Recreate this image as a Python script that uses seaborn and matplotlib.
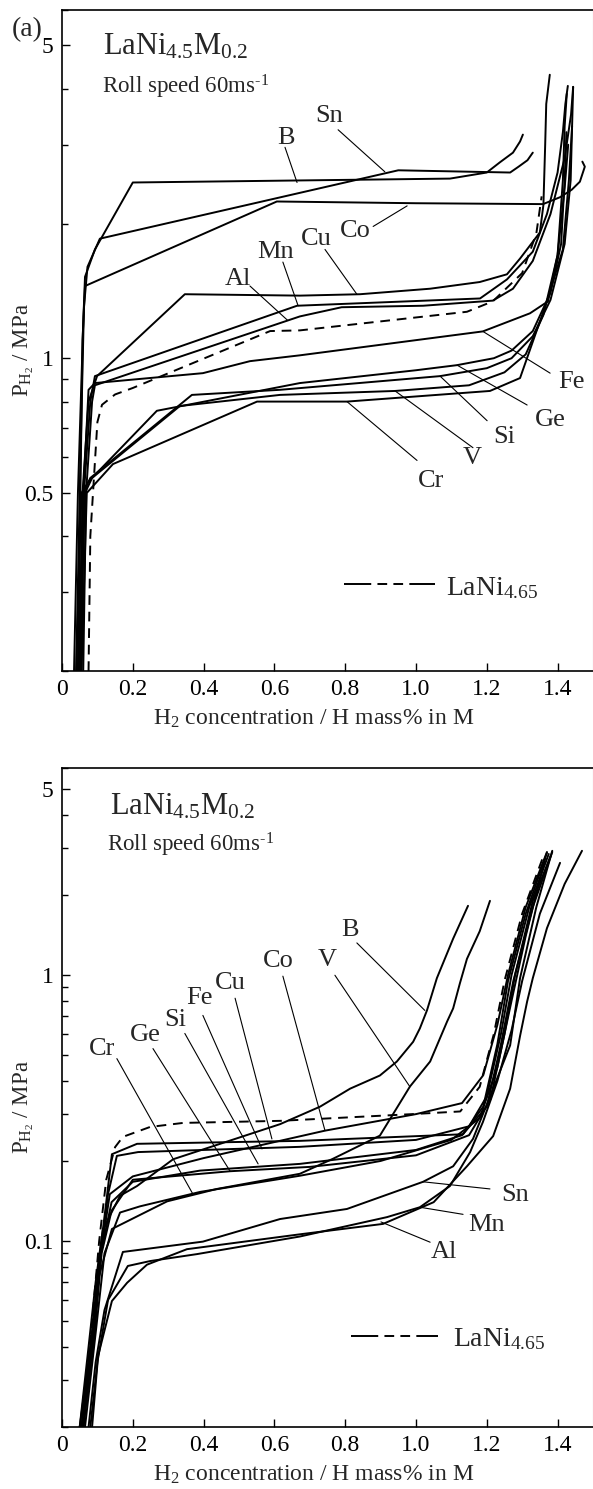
import numpy as np
import pandas as pd
import matplotlib
matplotlib.use("Agg")
import matplotlib.pyplot as plt
import seaborn as sns
from matplotlib.ticker import FixedLocator, FixedFormatter, LogLocator, NullFormatter

# ---------------- data: panel (a) ----------------
a_B_x = [0.034, 0.045, 0.06, 0.065, 0.093, 0.2, 1.096, 1.2, 1.237, 1.274, 1.294, 1.302]
a_B_y = [0.2, 0.5, 1.2, 1.52, 1.75, 2.47, 2.52, 2.60, 2.74, 2.88, 3.05, 3.16]
a_Sn_x = [0.04, 0.05, 0.062, 0.072, 0.107, 0.95, 1.266, 1.29, 1.315, 1.33]
a_Sn_y = [0.2, 0.5, 1.3, 1.6, 1.85, 2.63, 2.60, 2.68, 2.77, 2.88]
a_Co_x = [0.045, 0.052, 0.058, 0.065, 0.607, 1.0, 1.359, 1.407, 1.44, 1.463, 1.477, 1.47]
a_Co_y = [0.2, 0.5, 1.1, 1.45, 2.24, 2.22, 2.21, 2.29, 2.38, 2.48, 2.68, 2.75]
a_Cu_x = [0.05, 0.058, 0.075, 0.099, 0.347, 0.672, 0.842, 1.04, 1.18, 1.257, 1.294, 1.35, 1.36, 1.365, 1.368, 1.378]
a_Cu_y = [0.2, 0.5, 0.8, 0.912, 1.39, 1.38, 1.39, 1.43, 1.48, 1.54, 1.67, 1.91, 2.2, 3.0, 3.7, 4.3]
a_Mn_x = [0.055, 0.062, 0.08, 0.093, 0.664, 1.181, 1.257, 1.33, 1.37, 1.40, 1.415, 1.422, 1.429]
a_Mn_y = [0.2, 0.5, 0.8, 0.912, 1.31, 1.36, 1.50, 1.73, 2.1, 2.6, 3.2, 3.7, 4.06]
a_Al_x = [0.06, 0.068, 0.085, 0.093, 0.672, 0.79, 1.02, 1.217, 1.274, 1.33, 1.38, 1.42, 1.438, 1.444]
a_Al_y = [0.2, 0.5, 0.8, 0.87, 1.24, 1.30, 1.31, 1.345, 1.43, 1.65, 2.1, 2.8, 3.5, 4.04]
a_Fe_x = [0.05, 0.06, 0.075, 0.093, 0.398, 0.531, 0.672, 1.189, 1.322, 1.373, 1.40, 1.415, 1.42, 1.426]
a_Fe_y = [0.2, 0.5, 0.85, 0.88, 0.926, 0.985, 1.015, 1.148, 1.26, 1.34, 1.7, 2.5, 3.3, 3.9]
a_Ge_x = [0.04, 0.055, 0.075, 0.268, 0.672, 1.0, 1.116, 1.22, 1.27, 1.33, 1.38, 1.41, 1.42, 1.425]
a_Ge_y = [0.2, 0.5, 0.53, 0.763, 0.88, 0.94, 0.965, 1.0, 1.04, 1.15, 1.4, 1.8, 2.5, 3.2]
a_Si_x = [0.045, 0.06, 0.08, 0.367, 0.616, 1.068, 1.2, 1.27, 1.33, 1.38, 1.42, 1.437, 1.441]
a_Si_y = [0.2, 0.5, 0.54, 0.828, 0.85, 0.912, 0.95, 1.0, 1.12, 1.35, 1.8, 2.5, 3.3]
a_V_x = [0.05, 0.065, 0.085, 0.333, 0.616, 0.941, 1.15, 1.25, 1.31, 1.36, 1.40, 1.42, 1.43]
a_V_y = [0.2, 0.5, 0.54, 0.782, 0.828, 0.845, 0.87, 0.93, 1.02, 1.25, 1.7, 2.4, 3.0]
a_Cr_x = [0.055, 0.07, 0.144, 0.551, 0.805, 1.209, 1.294, 1.37, 1.415, 1.432, 1.441, 1.444]
a_Cr_y = [0.2, 0.5, 0.58, 0.80, 0.80, 0.845, 0.903, 1.34, 1.75, 2.5, 3.3, 4.04]
a_La_x = [0.075, 0.08, 0.1, 0.113, 0.15, 0.2, 0.588, 0.672, 1.144, 1.217, 1.30, 1.34, 1.355]
a_La_y = [0.2, 0.4, 0.72, 0.787, 0.83, 0.858, 1.15, 1.154, 1.27, 1.34, 1.55, 1.9, 2.3]

a_labels = ['B', 'Sn', 'Co', 'Cu', 'Mn', 'Al', 'Fe', 'Ge', 'Si', 'V', 'Cr']
a_label_x = [0.633, 0.754, 0.828, 0.718, 0.602, 0.497, 1.438, 1.379, 1.249, 1.158, 1.042]
a_label_y = [3.11, 3.48, 1.92, 1.85, 1.73, 1.50, 0.885, 0.729, 0.668, 0.597, 0.533]
a_lead_x0 = [0.630, 0.780, 0.879, 0.743, 0.624, 0.531, 1.379, 1.314, 1.201, 1.161, 1.003]
a_lead_y0 = [2.96, 3.24, 1.97, 1.75, 1.64, 1.45, 0.926, 0.786, 0.725, 0.631, 0.591]
a_lead_x1 = [0.664, 0.912, 0.975, 0.833, 0.667, 0.638, 1.189, 1.116, 1.068, 0.941, 0.805]
a_lead_y1 = [2.47, 2.61, 2.19, 1.39, 1.31, 1.214, 1.148, 0.965, 0.912, 0.845, 0.80]

# ---------------- data: panel (b) ----------------
b_B_x = [0.05, 0.075, 0.095, 0.115, 0.164, 0.212, 0.314, 0.616, 0.729, 0.814, 0.898, 0.946, 0.992, 1.011, 1.031, 1.059, 1.105, 1.147]
b_B_y = [0.02, 0.04, 0.07, 0.11, 0.148, 0.161, 0.203, 0.275, 0.32, 0.374, 0.419, 0.473, 0.561, 0.63, 0.736, 0.973, 1.37, 1.82]
b_V_x = [0.055, 0.08, 0.1, 0.141, 0.297, 0.438, 0.672, 0.766, 0.898, 0.983, 1.040, 1.088, 1.105, 1.124, 1.144, 1.18, 1.209]
b_V_y = [0.02, 0.04, 0.07, 0.111, 0.141, 0.157, 0.179, 0.204, 0.249, 0.381, 0.473, 0.669, 0.749, 0.93, 1.15, 1.46, 1.90]
b_Co_x = [0.06, 0.09, 0.11, 0.135, 0.2, 0.4, 0.743, 1.0, 1.13, 1.19, 1.23, 1.26, 1.31, 1.37]
b_Co_y = [0.02, 0.045, 0.09, 0.15, 0.175, 0.205, 0.26, 0.30, 0.33, 0.42, 0.65, 1.0, 1.8, 2.9]
b_Cu_x = [0.05, 0.085, 0.105, 0.125, 0.141, 0.212, 0.672, 1.133, 1.19, 1.23, 1.26, 1.31, 1.37]
b_Cu_y = [0.02, 0.045, 0.085, 0.14, 0.212, 0.232, 0.238, 0.252, 0.32, 0.55, 0.95, 1.7, 2.88]
b_Fe_x = [0.055, 0.088, 0.108, 0.13, 0.155, 0.215, 0.672, 1.0, 1.15, 1.2, 1.24, 1.27, 1.32, 1.375]
b_Fe_y = [0.02, 0.045, 0.085, 0.15, 0.209, 0.216, 0.226, 0.24, 0.27, 0.35, 0.6, 1.0, 1.8, 2.85]
b_Si_x = [0.06, 0.09, 0.11, 0.14, 0.2, 0.39, 0.672, 1.0, 1.13, 1.2, 1.24, 1.275, 1.33, 1.385]
b_Si_y = [0.02, 0.045, 0.09, 0.14, 0.167, 0.184, 0.195, 0.22, 0.25, 0.32, 0.55, 0.95, 1.8, 2.9]
b_Ge_x = [0.06, 0.092, 0.112, 0.14, 0.2, 0.475, 0.7, 1.0, 1.15, 1.21, 1.25, 1.28, 1.33, 1.38]
b_Ge_y = [0.02, 0.045, 0.09, 0.13, 0.17, 0.183, 0.19, 0.21, 0.25, 0.34, 0.6, 1.0, 1.9, 2.8]
b_Cr_x = [0.065, 0.095, 0.12, 0.164, 0.22, 0.39, 0.672, 0.9, 1.1, 1.18, 1.23, 1.27, 1.31, 1.365]
b_Cr_y = [0.02, 0.045, 0.09, 0.128, 0.135, 0.153, 0.176, 0.2, 0.24, 0.29, 0.45, 0.8, 1.4, 2.75]
b_Sn_x = [0.075, 0.095, 0.12, 0.172, 0.398, 0.616, 0.805, 1.02, 1.105, 1.161, 1.218, 1.266, 1.294, 1.34, 1.385]
b_Sn_y = [0.02, 0.035, 0.055, 0.091, 0.0995, 0.121, 0.132, 0.167, 0.191, 0.242, 0.374, 0.544, 0.973, 1.8, 2.93]
b_Mn_x = [0.08, 0.1, 0.13, 0.186, 0.249, 0.381, 0.672, 0.918, 1.011, 1.096, 1.153, 1.189, 1.23, 1.27, 1.30, 1.35, 1.407]
b_Mn_y = [0.02, 0.035, 0.06, 0.0806, 0.0841, 0.0893, 0.104, 0.123, 0.134, 0.161, 0.216, 0.28, 0.4, 0.62, 0.95, 1.7, 2.64]
b_Al_x = [0.085, 0.102, 0.141, 0.184, 0.24, 0.353, 0.672, 0.907, 1.05, 1.144, 1.218, 1.266, 1.294, 1.314, 1.33, 1.37, 1.42, 1.469]
b_Al_y = [0.02, 0.037, 0.0595, 0.0697, 0.0815, 0.0932, 0.106, 0.116, 0.14, 0.191, 0.248, 0.374, 0.59, 0.795, 0.973, 1.5, 2.2, 2.93]
b_La_x = [0.06, 0.085, 0.105, 0.125, 0.15, 0.172, 0.249, 0.342, 0.616, 0.99, 1.125, 1.18, 1.22, 1.25, 1.3, 1.36]
b_La_y = [0.02, 0.05, 0.1, 0.17, 0.2255, 0.2464, 0.2685, 0.278, 0.283, 0.30, 0.307, 0.38, 0.6, 0.95, 1.7, 2.8]

b_labels = ['B', 'V', 'Co', 'Cu', 'Fe', 'Si', 'Ge', 'Cr', 'Sn', 'Mn', 'Al']
b_label_x = [0.814, 0.749, 0.610, 0.475, 0.387, 0.319, 0.234, 0.113, 1.280, 1.198, 1.079]
b_label_y = [1.476, 1.137, 1.128, 0.931, 0.818, 0.675, 0.593, 0.525, 0.149, 0.1147, 0.0907]
b_lead_x0 = [0.833, 0.771, 0.624, 0.489, 0.398, 0.347, 0.257, 0.155, 1.209, 1.133, 1.040]
b_lead_y0 = [1.32, 0.998, 0.99, 0.818, 0.705, 0.603, 0.529, 0.485, 0.157, 0.126, 0.099]
b_lead_x1 = [1.025, 0.983, 0.743, 0.593, 0.565, 0.554, 0.475, 0.370, 1.020, 1.011, 0.901]
b_lead_y1 = [0.736, 0.380, 0.26, 0.242, 0.222, 0.195, 0.183, 0.150, 0.167, 0.134, 0.118]

x_ticks = [0, 0.2, 0.4, 0.6, 0.8, 1.0, 1.2, 1.4]
x_tick_labels = ['0', '0.2', '0.4', '0.6', '0.8', '1.0', '1.2', '1.4']
a_y_ticks = [0.5, 1, 5]
a_y_tick_labels = ['0.5', '1', '5']
b_y_ticks = [0.1, 1, 5]
b_y_tick_labels = ['0.1', '1', '5']

a_curves = {'B': (a_B_x, a_B_y), 'Sn': (a_Sn_x, a_Sn_y), 'Co': (a_Co_x, a_Co_y),
            'Cu': (a_Cu_x, a_Cu_y), 'Mn': (a_Mn_x, a_Mn_y), 'Al': (a_Al_x, a_Al_y),
            'Fe': (a_Fe_x, a_Fe_y), 'Ge': (a_Ge_x, a_Ge_y), 'Si': (a_Si_x, a_Si_y),
            'V': (a_V_x, a_V_y), 'Cr': (a_Cr_x, a_Cr_y)}
b_curves = {'B': (b_B_x, b_B_y), 'V': (b_V_x, b_V_y), 'Co': (b_Co_x, b_Co_y),
            'Cu': (b_Cu_x, b_Cu_y), 'Fe': (b_Fe_x, b_Fe_y), 'Si': (b_Si_x, b_Si_y),
            'Ge': (b_Ge_x, b_Ge_y), 'Cr': (b_Cr_x, b_Cr_y), 'Sn': (b_Sn_x, b_Sn_y),
            'Mn': (b_Mn_x, b_Mn_y), 'Al': (b_Al_x, b_Al_y)}


def to_frame(curves):
    rows = []
    for name, (xs, ys) in curves.items():
        for i, (x, y) in enumerate(zip(xs, ys)):
            rows.append((name, i, x, y))
    return pd.DataFrame(rows, columns=['alloy', 'order', 'x', 'y'])


# ---------------- style ----------------
sns.set_theme(style='ticks')
plt.rcParams['font.family'] = ['Liberation Serif', 'DejaVu Serif']
plt.rcParams['mathtext.fontset'] = 'custom'
plt.rcParams['mathtext.rm'] = 'Liberation Serif'
plt.rcParams['mathtext.it'] = 'Liberation Serif:italic'
plt.rcParams['mathtext.bf'] = 'Liberation Serif:bold'

LW = 1.4
fig = plt.figure(figsize=(5.93, 14.89), dpi=100)
fig.patch.set_facecolor('white')
ax_a = fig.add_axes([0.10455, 0.54936, 0.8954, 0.44392])
ax_b = fig.add_axes([0.10455, 0.04164, 0.8954, 0.44258])

panels = [
    (ax_a, a_curves, (a_La_x, a_La_y), (0.2, 6), a_y_ticks, a_y_tick_labels,
     a_labels, a_label_x, a_label_y, a_lead_x0, a_lead_y0, a_lead_x1, a_lead_y1,
     (0.797, 1.054, 0.313), (1.085, 0.296)),
    (ax_b, b_curves, (b_La_x, b_La_y), (0.02, 6), b_y_ticks, b_y_tick_labels,
     b_labels, b_label_x, b_label_y, b_lead_x0, b_lead_y0, b_lead_x1, b_lead_y1,
     (0.816, 1.062, 0.0441), (1.105, 0.0402)),
]

for (ax, curves, la, ylim, yt, ytl, labs, lx, ly, lx0, ly0, lx1, ly1, leg, legt) in panels:
    df = to_frame(curves)
    sns.lineplot(data=df, x='x', y='y', units='alloy', estimator=None, sort=False,
                 color='black', lw=LW, ax=ax, legend=False)
    sns.lineplot(x=la[0], y=la[1], sort=False, estimator=None, color='black', lw=LW,
                 linestyle=(0, (5, 3.5)), ax=ax)
    ax.set_yscale('log')
    ax.set_xlim(0, 1.5)
    ax.set_ylim(*ylim)
    ax.xaxis.set_major_locator(FixedLocator(x_ticks))
    ax.xaxis.set_major_formatter(FixedFormatter(x_tick_labels))
    ax.yaxis.set_major_locator(FixedLocator(yt))
    ax.yaxis.set_major_formatter(FixedFormatter(ytl))
    ax.yaxis.set_minor_locator(LogLocator(base=10, subs=np.arange(2, 10)))
    ax.yaxis.set_minor_formatter(NullFormatter())
    ax.tick_params(axis='both', which='major', direction='in', length=6, width=1.0,
                   labelsize=17, pad=6, color='black', labelcolor='black')
    ax.tick_params(axis='y', which='minor', direction='in', length=4, width=1.0, color='black')
    ax.tick_params(axis='x', which='minor', bottom=False)
    for s in ['left', 'bottom', 'top']:
        ax.spines[s].set_linewidth(1.2)
        ax.spines[s].set_color('black')
    ax.spines['right'].set_color('#bbbbbb')
    ax.spines['right'].set_linewidth(0.8)
    ax.set_xlabel(r'H$_2$ concentration / H mass% in M', fontsize=17, va='center')
    ax.xaxis.set_label_coords(0.474, -0.072)
    ax.set_ylabel(r'P$_{\mathrm{H}_2}$ / MPa', fontsize=16.5, va='center')
    ax.yaxis.set_label_coords(-0.072, 0.485)
    ax.set_facecolor('white')
    # element labels with leader lines
    for t, x, y, x0, y0, x1, y1 in zip(labs, lx, ly, lx0, ly0, lx1, ly1):
        ax.text(x, y, t, fontsize=19, ha='center', va='center')
        ax.plot([x0, x1], [y0, y1], color='black', lw=0.8)
    # legend-like key: solid - dash - dash - solid
    ax.plot([leg[0], leg[1]], [leg[2], leg[2]], color='black', lw=LW,
            linestyle=(0, (14, 3.2, 5, 3.2, 5, 3.2, 60, 0.1)))
    ax.text(legt[0], legt[1], r'LaNi$_{4.65}$', fontsize=20, ha='left', va='baseline')

# titles
ax_a.text(0.0772, 0.932, r'LaNi$_{4.5}$M$_{0.2}$', transform=ax_a.transAxes,
          fontsize=22, ha='left', va='baseline')
ax_a.text(0.0753, 0.873, r'Roll speed 60ms$^{\text{-}1}$', transform=ax_a.transAxes,
          fontsize=16.5, ha='left', va='baseline')
ax_b.text(0.0904, 0.9287, r'LaNi$_{4.5}$M$_{0.2}$', transform=ax_b.transAxes,
          fontsize=22, ha='left', va='baseline')
ax_b.text(0.0847, 0.873, r'Roll speed 60ms$^{\text{-}1}$', transform=ax_b.transAxes,
          fontsize=16.5, ha='left', va='baseline')
fig.text(12 / 593, 1 - 36 / 1489, '(a)', fontsize=20, ha='left', va='baseline')

fig.savefig('out.png', dpi=100, facecolor='white')
